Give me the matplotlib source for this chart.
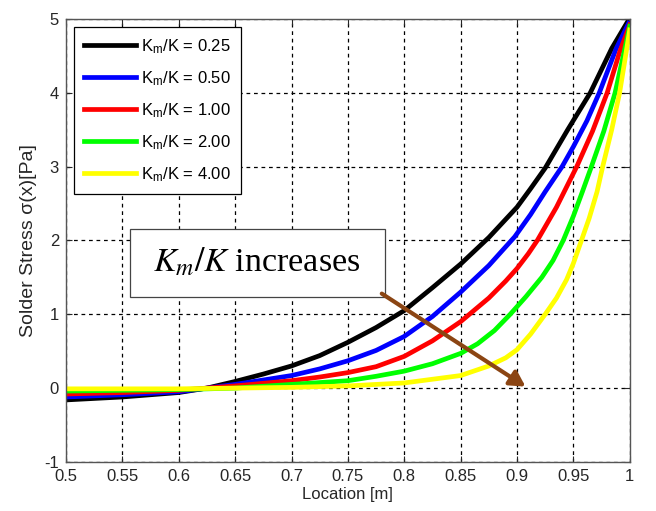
import matplotlib
matplotlib.use('Agg')
import matplotlib.pyplot as plt
from matplotlib.patches import Rectangle

plt.rcParams['font.family'] = ['Liberation Sans', 'DejaVu Sans']
plt.rcParams['mathtext.fontset'] = 'custom'
plt.rcParams['mathtext.rm'] = 'Liberation Sans'
plt.rcParams['mathtext.it'] = 'Liberation Sans:italic'
plt.rcParams['axes.unicode_minus'] = False

# values
x_k025 = [0.5, 0.55, 0.6, 0.625, 0.65, 0.675, 0.7, 0.725, 0.75, 0.775, 0.8, 0.825, 0.85, 0.875, 0.9, 0.912, 0.925, 0.945, 0.965, 0.984, 0.998]
y_k025 = [-0.16, -0.12, -0.06, 0.0, 0.09, 0.19, 0.30, 0.44, 0.62, 0.82, 1.05, 1.36, 1.68, 2.04, 2.45, 2.7, 2.98, 3.5, 4.0, 4.6, 4.96]

x_k050 = [0.5, 0.55, 0.6, 0.65, 0.7, 0.725, 0.75, 0.775, 0.8, 0.825, 0.85, 0.875, 0.898, 0.912, 0.925, 0.94, 0.95, 0.962, 0.973, 0.988, 0.999]
y_k050 = [-0.12, -0.09, -0.05, 0.05, 0.17, 0.26, 0.37, 0.51, 0.70, 0.97, 1.30, 1.66, 2.05, 2.35, 2.66, 3.0, 3.27, 3.62, 4.0, 4.6, 4.94]

x_k100 = [0.5, 0.55, 0.6, 0.65, 0.7, 0.725, 0.75, 0.775, 0.8, 0.825, 0.85, 0.875, 0.89, 0.9, 0.91, 0.918, 0.935, 0.953, 0.967, 0.98, 0.991, 1.0]
y_k100 = [-0.08, -0.06, -0.03, 0.03, 0.10, 0.15, 0.21, 0.29, 0.43, 0.64, 0.9, 1.22, 1.45, 1.62, 1.82, 2.0, 2.45, 3.0, 3.48, 4.0, 4.55, 4.92]

x_k200 = [0.5, 0.6, 0.65, 0.7, 0.75, 0.775, 0.8, 0.825, 0.85, 0.865, 0.88, 0.894, 0.908, 0.922, 0.932, 0.941, 0.95, 0.958, 0.966, 0.977, 0.987, 1.0]
y_k200 = [-0.04, -0.02, 0.0, 0.05, 0.10, 0.16, 0.23, 0.33, 0.47, 0.6, 0.78, 1.0, 1.24, 1.5, 1.73, 2.0, 2.33, 2.66, 3.0, 3.48, 4.0, 4.9]

x_k400 = [0.5, 0.6, 0.7, 0.75, 0.8, 0.85, 0.875, 0.89, 0.9, 0.912, 0.925, 0.935, 0.944, 0.95, 0.956, 0.964, 0.971, 0.976, 0.984, 0.991, 1.0]
y_k400 = [-0.01, -0.01, 0.01, 0.03, 0.07, 0.17, 0.3, 0.41, 0.52, 0.73, 1.0, 1.22, 1.47, 1.69, 1.95, 2.3, 2.66, 3.0, 3.5, 4.0, 4.85]

labels = ['0.25', '0.50', '1.00', '2.00', '4.00']
colors = ['black', 'blue', 'red', '#00ff00', 'yellow']
xs = [x_k025, x_k050, x_k100, x_k200, x_k400]
ys = [y_k025, y_k050, y_k100, y_k200, y_k400]

xticks = [0.5, 0.55, 0.6, 0.65, 0.7, 0.75, 0.8, 0.85, 0.9, 0.95, 1]
xticklabels = ['0.5', '0.55', '0.6', '0.65', '0.7', '0.75', '0.8', '0.85', '0.9', '0.95', '1']
yticks = [-1, 0, 1, 2, 3, 4, 5]

fig = plt.figure(figsize=(6.56, 5.11), dpi=100)
ax = fig.add_axes([0.1006, 0.096, 0.8594, 0.867])

for xv, yv, c, lab in zip(xs, ys, colors, labels):
    ax.plot(xv, yv, color=c, lw=3.4, label=r'K$_\mathregular{m}$/K = ' + lab,
            solid_joinstyle='round')

ax.set_xlim(0.5, 1)
ax.set_ylim(-1, 5)
ax.set_xticks(xticks)
ax.set_xticklabels(xticklabels)
ax.set_yticks(yticks)
ax.grid(True, color='black', linestyle=(0, (3, 3)), linewidth=0.9)
ax.tick_params(direction='in', top=True, right=True, labelsize=12,
               colors='#262626', length=4, pad=5)
for s in ax.spines.values():
    s.set_color('#555555')
    s.set_linewidth(1)

ax.set_xlabel('Location [m]', fontsize=12, color='#262626', labelpad=2)
ax.set_ylabel('Solder Stress \u03c3(x)[Pa]', fontsize=14, color='#262626', labelpad=5)

leg = ax.legend(loc='upper left', bbox_to_anchor=(0.014, 0.982), fontsize=12,
                fancybox=False, framealpha=1, edgecolor='black',
                handlelength=3.1, handletextpad=0.35, labelspacing=0.8,
                borderpad=0.6, borderaxespad=0)
leg.get_frame().set_linewidth(0.9)

ax.add_patch(Rectangle((0.5567, 1.24), 0.2261, 0.91, facecolor='white',
                       edgecolor='#444444', lw=0.9, zorder=5))
ax.text(0.6695, 1.58, r'$K_m/K$ increases', fontsize=24.5, family='Liberation Serif',
        math_fontfamily='stix', ha='center', va='baseline', zorder=6)

ax.annotate('', xy=(0.9096, 0.0), xytext=(0.778, 1.30),
            arrowprops=dict(arrowstyle='-|>,head_length=0.9,head_width=0.5',
                            color='#8B4513', lw=3), zorder=7)

fig.savefig('out.png', dpi=100, facecolor='white')
